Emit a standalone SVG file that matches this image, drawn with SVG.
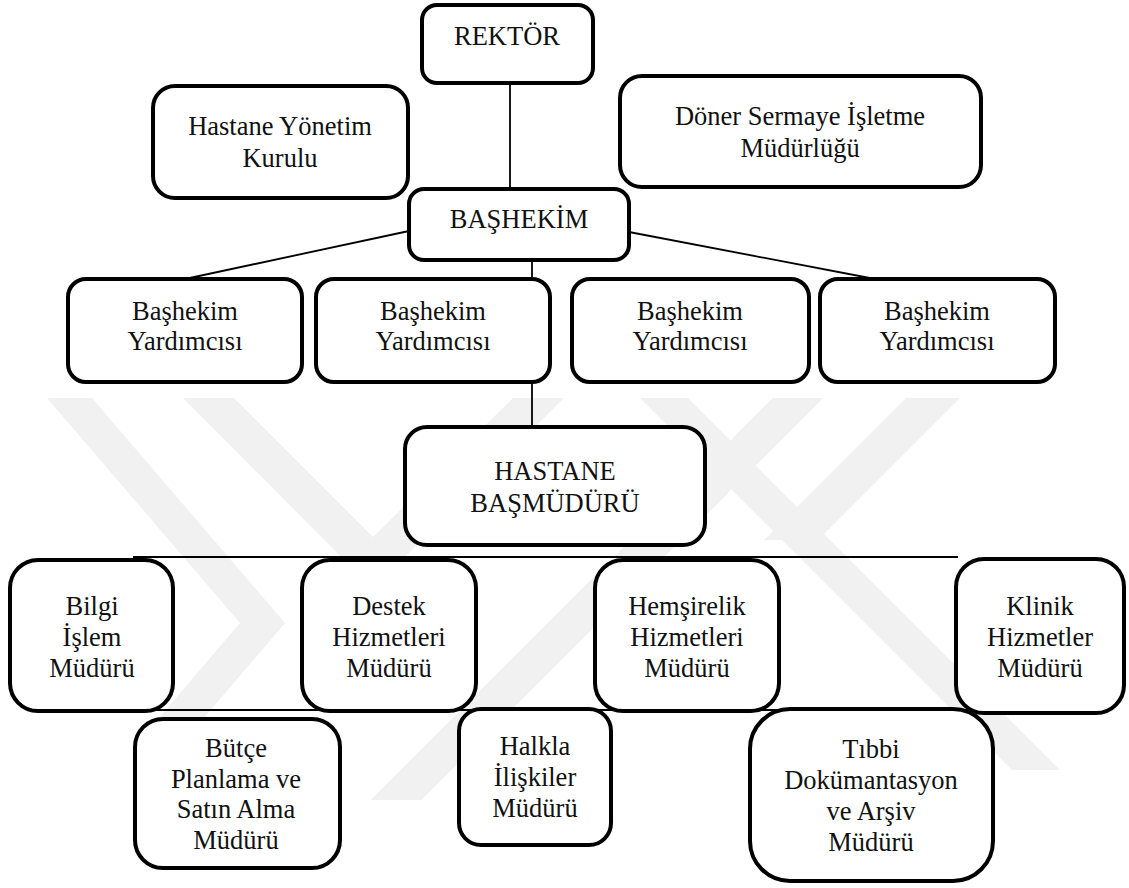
<svg xmlns="http://www.w3.org/2000/svg" width="1129" height="888" viewBox="0 0 1129 888">
  <style>
    .box { fill: #ffffff; stroke: #000000; stroke-width: 4; }
    .lbl { font-family: "Liberation Serif", "Times New Roman", serif; font-size: 26.5px; fill: #111111; text-anchor: middle; }
    .link { stroke: #000000; stroke-width: 1.8; fill: none; }
    .mark { fill: #f1f1f1; }
  </style>

  <rect x="0" y="0" width="1129" height="888" fill="#ffffff"/>

  <!-- faint background emblem -->
  <g id="watermark">
    <polygon class="mark" points="47,398 92,398 285,623 185,740 140,740 240,623"/>
    <polygon class="mark" points="183,398 234,398 373,537 513,398 564,398 373,589"/>
    <polygon class="mark" points="640,398 688,398 1060,770 1012,770"/>
    <polygon class="mark" points="773,398 823,398 421,800 371,800"/>
    <polygon class="mark" points="906,398 960,398 818,540 764,540"/>
  </g>

  <!-- connectors -->
  <g id="connectors">
    <line class="link" x1="510" y1="83" x2="510" y2="189"/>
    <line class="link" x1="409" y1="231" x2="185" y2="279"/>
    <line class="link" x1="629" y1="232" x2="875" y2="279"/>
    <line class="link" x1="532" y1="260" x2="532" y2="427"/>
    <line class="link" x1="133" y1="557" x2="958" y2="557"/>
    <line class="link" x1="60" y1="710" x2="1080" y2="710"/>
  </g>

  <g id="rektor">
    <rect class="box" x="422" y="5" width="171" height="78" rx="15"/>
    <text class="lbl" x="507" y="45">REKTÖR</text>
  </g>

  <g id="yonetim-kurulu">
    <rect class="box" x="153" y="86" width="255" height="112" rx="22"/>
    <text class="lbl"><tspan x="280" y="135">Hastane Yönetim</tspan><tspan x="280" y="167">Kurulu</tspan></text>
  </g>

  <g id="doner-sermaye">
    <rect class="box" x="620" y="76" width="361" height="111" rx="22"/>
    <text class="lbl"><tspan x="800" y="125">Döner Sermaye İşletme</tspan><tspan x="800" y="157">Müdürlüğü</tspan></text>
  </g>

  <g id="bashekim">
    <rect class="box" x="409" y="189" width="220" height="71" rx="15"/>
    <text class="lbl" x="519" y="228">BAŞHEKİM</text>
  </g>

  <g id="yardimci-1">
    <rect class="box" x="68" y="279" width="234" height="103" rx="18"/>
    <text class="lbl"><tspan x="185" y="320">Başhekim</tspan><tspan x="185" y="350">Yardımcısı</tspan></text>
  </g>
  <g id="yardimci-2">
    <rect class="box" x="316" y="279" width="234" height="103" rx="18"/>
    <text class="lbl"><tspan x="433" y="320">Başhekim</tspan><tspan x="433" y="350">Yardımcısı</tspan></text>
  </g>
  <g id="yardimci-3">
    <rect class="box" x="572" y="279" width="237" height="103" rx="18"/>
    <text class="lbl"><tspan x="690" y="320">Başhekim</tspan><tspan x="690" y="350">Yardımcısı</tspan></text>
  </g>
  <g id="yardimci-4">
    <rect class="box" x="820" y="279" width="235" height="103" rx="18"/>
    <text class="lbl"><tspan x="937" y="320">Başhekim</tspan><tspan x="937" y="350">Yardımcısı</tspan></text>
  </g>

  <g id="basmudur">
    <rect class="box" x="405" y="427" width="300" height="118" rx="22"/>
    <text class="lbl"><tspan x="555" y="480">HASTANE</tspan><tspan x="555" y="512">BAŞMÜDÜRÜ</tspan></text>
  </g>

  <g id="bilgi-islem">
    <rect class="box" x="10" y="560" width="163" height="151" rx="28"/>
    <text class="lbl"><tspan x="92" y="615">Bilgi</tspan><tspan x="92" y="646">İşlem</tspan><tspan x="92" y="677">Müdürü</tspan></text>
  </g>
  <g id="destek">
    <rect class="box" x="302" y="560" width="174" height="151" rx="28"/>
    <text class="lbl"><tspan x="389" y="615">Destek</tspan><tspan x="389" y="646">Hizmetleri</tspan><tspan x="389" y="677">Müdürü</tspan></text>
  </g>
  <g id="hemsirelik">
    <rect class="box" x="595" y="560" width="184" height="151" rx="28"/>
    <text class="lbl"><tspan x="687" y="615">Hemşirelik</tspan><tspan x="687" y="646">Hizmetleri</tspan><tspan x="687" y="677">Müdürü</tspan></text>
  </g>
  <g id="klinik">
    <rect class="box" x="956" y="559" width="168" height="154" rx="28"/>
    <text class="lbl"><tspan x="1040" y="615">Klinik</tspan><tspan x="1040" y="646">Hizmetler</tspan><tspan x="1040" y="677">Müdürü</tspan></text>
  </g>

  <g id="butce">
    <rect class="box" x="135" y="719" width="205" height="149" rx="28"/>
    <text class="lbl"><tspan x="236" y="757">Bütçe</tspan><tspan x="236" y="788">Planlama ve</tspan><tspan x="236" y="818">Satın Alma</tspan><tspan x="236" y="849">Müdürü</tspan></text>
  </g>
  <g id="halkla-iliskiler">
    <rect class="box" x="459" y="709" width="152" height="136" rx="22"/>
    <text class="lbl"><tspan x="535" y="755">Halkla</tspan><tspan x="535" y="786">İlişkiler</tspan><tspan x="535" y="817">Müdürü</tspan></text>
  </g>
  <g id="tibbi-dokumantasyon">
    <rect class="box" x="750" y="709" width="243" height="172" rx="40"/>
    <text class="lbl"><tspan x="871" y="758">Tıbbi</tspan><tspan x="871" y="789">Dokümantasyon</tspan><tspan x="871" y="820">ve Arşiv</tspan><tspan x="871" y="851">Müdürü</tspan></text>
  </g>
</svg>
